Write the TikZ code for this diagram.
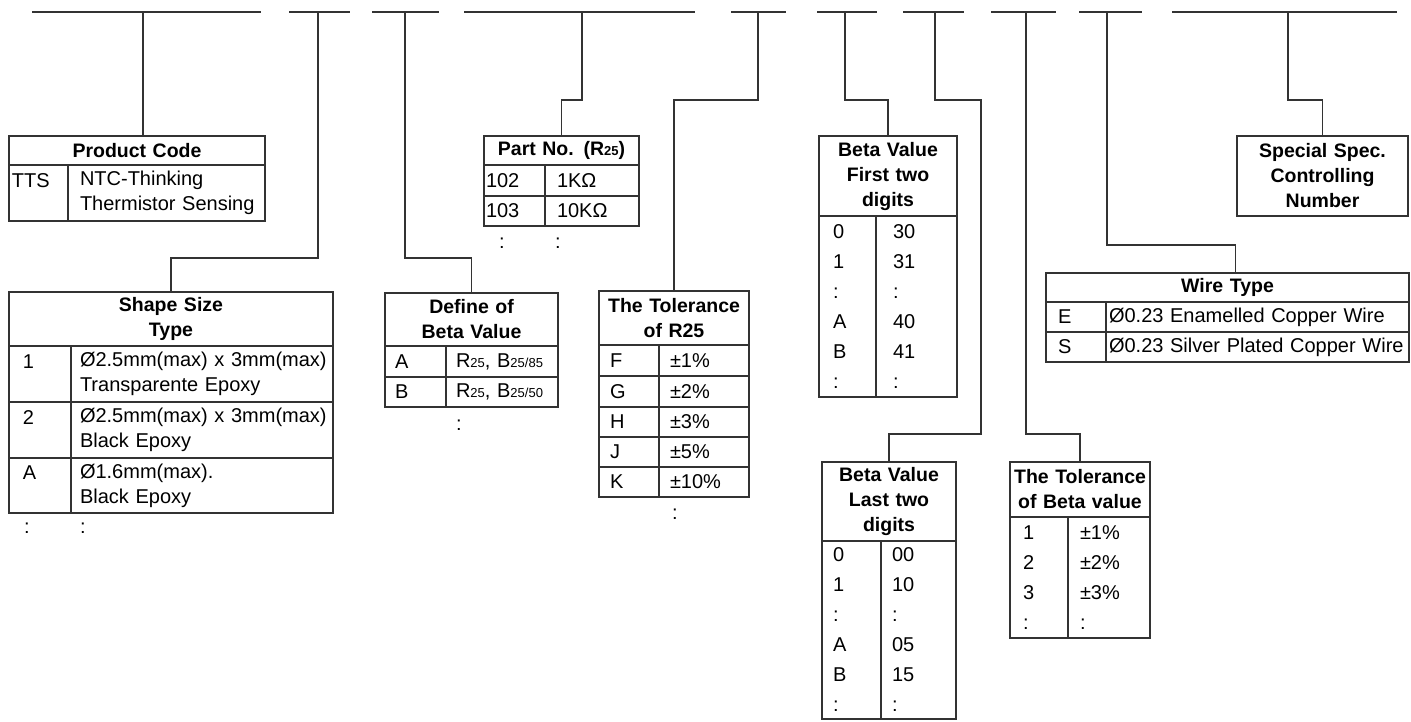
\documentclass[tikz,border=0pt]{standalone}
\usepackage{fontspec}
\setmainfont{Liberation Sans}
\usetikzlibrary{positioning}
\newcommand{\smallidx}[1]{{\fontsize{13}{13}\selectfont #1}}

\begin{document}
\begin{tikzpicture}[x=1pt, y=-1pt,
		bar/.style={draw=black!80, line width=1.4pt},
		wire/.style={draw=black!80, line width=1.1pt},
		cell/.style={draw=black!80, line width=1.1pt, anchor=north west, inner ysep=0pt, outer sep=0pt, align=left, font=\fontsize{20}{25}\selectfont},
		headcell/.style={cell, align=center, inner xsep=1pt, font=\fontsize{19.5}{25}\selectfont\bfseries},
		listcell/.style={cell, font=\fontsize{20}{30}\selectfont},
		more/.style={inner sep=0pt, font=\fontsize{20}{25}\selectfont}]
				\useasboundingbox (0,0) rectangle (1411,721);
				% code bars
				\draw[bar] (32,12) -- (261,12);    \coordinate (b1) at (143,12);
				\draw[bar] (289,12) -- (350,12);   \coordinate (b2) at (318,12);
				\draw[bar] (372,12) -- (439,12);   \coordinate (b3) at (405,12);
				\draw[bar] (464,12) -- (695,12);   \coordinate (b4) at (582,12);
				\draw[bar] (731,12) -- (786,12);   \coordinate (b5) at (758,12);
				\draw[bar] (817,12) -- (877,12);   \coordinate (b6) at (845,12);
				\draw[bar] (903,12) -- (964,12);   \coordinate (b7) at (935,12);
				\draw[bar] (991,12) -- (1056,12);  \coordinate (b8) at (1026,12);
				\draw[bar] (1079,12) -- (1142,12); \coordinate (b9) at (1107,12);
				\draw[bar] (1172,12) -- (1397,12); \coordinate (b10) at (1288,12);
				% product code
				\node[headcell, text width=254pt, minimum height=29pt] (pcT) at (9,136) {Product Code};
				\node[cell, inner xsep=3pt, text width=53pt, minimum height=56pt] (pcK) at (9,165) {TTS\\~};
				\node[cell, inner xsep=12pt, text width=173pt, minimum height=56pt] (pcV) at (68,165) {\mbox{NTC-Thinking}\\\mbox{Thermistor Sensing}};
				% shape size type
				\node[headcell, text width=322pt, minimum height=54pt] (shT) at (9,292) {Shape Size\\Type};
				\node[cell, inner xsep=14pt, text width=34pt, minimum height=56pt] (sh1k) at (9,346) {1\\~};
				\node[cell, inner xsep=9pt, text width=244pt, minimum height=56pt] (sh1v) at (71,346) {\mbox{Ø2.5mm(max) x 3mm(max)}\\\mbox{Transparente Epoxy}};
				\node[cell, inner xsep=14pt, text width=34pt, minimum height=56pt] (sh2k) at (9,402) {2\\~};
				\node[cell, inner xsep=9pt, text width=244pt, minimum height=56pt] (sh2v) at (71,402) {\mbox{Ø2.5mm(max) x 3mm(max)}\\\mbox{Black Epoxy}};
				\node[cell, inner xsep=14pt, text width=34pt, minimum height=55pt] (sh3k) at (9,458) {A\\~};
				\node[cell, inner xsep=9pt, text width=244pt, minimum height=55pt] (sh3v) at (71,458) {\mbox{Ø1.6mm(max).}\\\mbox{Black Epoxy}};
				\node[more] (shm1) at (27,528) {:};
				\node[more] (shm2) at (83,528) {:};
				% define of beta value
				\node[headcell, text width=171pt, minimum height=53pt] (dfT) at (385,293) {Define of\\Beta Value};
				\node[cell, inner xsep=10pt, text width=41pt, minimum height=31pt] (dfAk) at (385,346) {A};
				\node[cell, inner xsep=10pt, text width=92pt, minimum height=31pt] (dfAv) at (446,346) {R\smallidx{25}, B\smallidx{25/85}};
				\node[cell, inner xsep=10pt, text width=41pt, minimum height=30pt] (dfBk) at (385,377) {B};
				\node[cell, inner xsep=10pt, text width=92pt, minimum height=30pt] (dfBv) at (446,377) {R\smallidx{25}, B\smallidx{25/50}};
				\node[more] (dfm) at (459,425) {:};
				% part no
				\node[headcell, text width=153pt, minimum height=29pt] (pnT) at (484,136) {Part No. (R\smallidx{25})};
				\node[cell, inner xsep=2pt, text width=57pt, minimum height=31pt] (pn1k) at (484,165) {102};
				\node[cell, inner xsep=12pt, text width=70pt, minimum height=31pt] (pn1v) at (545,165) {1KΩ};
				\node[cell, inner xsep=2pt, text width=57pt, minimum height=30pt] (pn2k) at (484,196) {103};
				\node[cell, inner xsep=12pt, text width=70pt, minimum height=30pt] (pn2v) at (545,196) {10KΩ};
				\node[more] (pnm1) at (502,243) {:};
				\node[more] (pnm2) at (558,243) {:};
				% tolerance of R25
				\node[headcell, text width=148pt, minimum height=54pt] (trT) at (599,291) {The Tolerance\\of R25};
				\node[cell, inner xsep=11pt, text width=38pt, minimum height=31pt] (trFk) at (599,345) {F};
				\node[cell, inner xsep=11pt, text width=68pt, minimum height=31pt] (trFv) at (659,345) {±1\%};
				\node[cell, inner xsep=11pt, text width=38pt, minimum height=31pt] (trGk) at (599,376) {G};
				\node[cell, inner xsep=11pt, text width=68pt, minimum height=31pt] (trGv) at (659,376) {±2\%};
				\node[cell, inner xsep=11pt, text width=38pt, minimum height=30pt] (trHk) at (599,407) {H};
				\node[cell, inner xsep=11pt, text width=68pt, minimum height=30pt] (trHv) at (659,407) {±3\%};
				\node[cell, inner xsep=11pt, text width=38pt, minimum height=30pt] (trJk) at (599,437) {J};
				\node[cell, inner xsep=11pt, text width=68pt, minimum height=30pt] (trJv) at (659,437) {±5\%};
				\node[cell, inner xsep=11pt, text width=38pt, minimum height=30pt] (trKk) at (599,467) {K};
				\node[cell, inner xsep=11pt, text width=68pt, minimum height=30pt] (trKv) at (659,467) {±10\%};
				\node[more] (trm) at (675,514) {:};
				% beta value first two digits
				\node[headcell, text width=136pt, minimum height=80pt] (bfT) at (819,136) {Beta Value\\First two\\digits};
				\node[listcell, inner xsep=14pt, text width=29pt, minimum height=181pt] (bfk) at (819,216) {0\\1\\:\\A\\B\\:};
				\node[listcell, inner xsep=17pt, text width=47pt, minimum height=181pt] (bfv) at (876,216) {30\\31\\:\\40\\41\\:};
				% beta value last two digits
				\node[headcell, text width=132pt, minimum height=79pt] (blT) at (822,462) {Beta Value\\Last two\\digits};
				\node[listcell, inner xsep=11pt, text width=37pt, minimum height=178pt] (blk) at (822,541) {0\\1\\:\\A\\B\\:};
				\node[listcell, inner xsep=11pt, text width=53pt, minimum height=178pt] (blv) at (881,541) {00\\10\\:\\05\\15\\:};
				% tolerance of beta value
				\node[headcell, text width=138pt, minimum height=55pt] (tbT) at (1010,462) {The Tolerance\\of Beta value};
				\node[listcell, inner xsep=13pt, text width=32pt, minimum height=121pt] (tbk) at (1010,517) {1\\2\\3\\:};
				\node[listcell, inner xsep=12pt, text width=58pt, minimum height=121pt] (tbv) at (1068,517) {±1\%\\±2\%\\±3\%\\:};
				% wire type
				\node[headcell, text width=361pt, minimum height=29pt] (wtT) at (1046,273) {Wire Type};
				\node[cell, inner xsep=12pt, text width=36pt, minimum height=30pt] (wtEk) at (1046,302) {E};
				\node[cell, inner xsep=3pt, text width=297pt, minimum height=30pt] (wtEv) at (1106,302) {Ø0.23 Enamelled Copper Wire};
				\node[cell, inner xsep=12pt, text width=36pt, minimum height=30pt] (wtSk) at (1046,332) {S};
				\node[cell, inner xsep=3pt, text width=297pt, minimum height=30pt] (wtSv) at (1106,332) {Ø0.23 Silver Plated Copper Wire};
				% special spec
				\node[headcell, text width=169pt, minimum height=80pt] (ssT) at (1237,136) {Special Spec.\\Controlling\\Number};
				% connectors
				\draw[wire] (b1) -- (b1 |- pcT.north);
				\draw[wire] (b2) -- ++(0,246) -| (shT.north);
				\draw[wire] (b3) -- ++(0,246) -| (dfT.north);
				\draw[wire] (b4) -- ++(0,88) -| (pnT.north);
				\draw[wire] (b5) -- ++(0,88) -| (trT.north);
				\draw[wire] (b6) -- ++(0,88) -| (bfT.north);
				\draw[wire] (b7) -- ++(0,88) -- ++(46,0) -- ++(0,334) -| (blT.north);
				\draw[wire] (b8) -- ++(0,422) -| (tbT.north);
				\draw[wire] (b9) -- ++(0,233) -| ([xshift=8pt]wtT.north);
				\draw[wire] (b10) -- ++(0,88) -| (ssT.north);
\end{tikzpicture}
\end{document}
